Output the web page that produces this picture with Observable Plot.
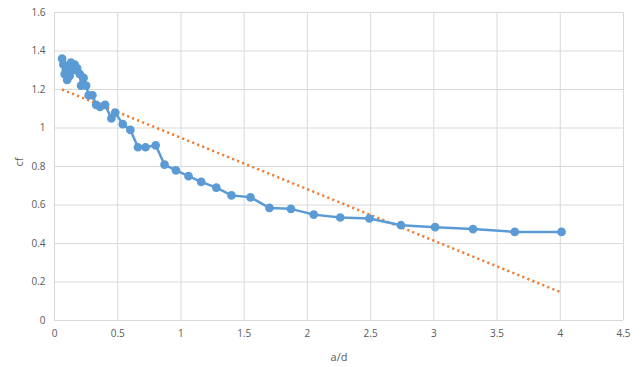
<!DOCTYPE html>
<html>
<head>
<meta charset="utf-8">
<script src="https://cdn.jsdelivr.net/npm/d3@7"></script>
<script src="https://cdn.jsdelivr.net/npm/@observablehq/plot@0.6"></script>
<style>
  html, body { margin: 0; padding: 0; background: #fff; }
  #chart svg { display: block; }
</style>
</head>
<body>
<div id="chart"></div>
<script>
const adValues = [0.06,0.07,0.08,0.09,0.10,0.11,0.12,0.13,0.15,0.16,0.18,0.20,0.21,0.23,0.25,0.27,0.30,0.33,0.36,0.40,0.45,0.48,0.54,0.60,0.66,0.72,0.80,0.87,0.96,1.06,1.16,1.28,1.40,1.55,1.70,1.87,2.05,2.26,2.49,2.74,3.01,3.31,3.64,4.01];
const cfValues = [1.36,1.33,1.28,1.30,1.25,1.32,1.27,1.34,1.30,1.33,1.31,1.28,1.22,1.26,1.22,1.17,1.17,1.12,1.11,1.12,1.05,1.08,1.02,0.99,0.90,0.90,0.91,0.81,0.78,0.75,0.72,0.69,0.65,0.64,0.585,0.58,0.55,0.535,0.53,0.495,0.485,0.475,0.46,0.46];
const trendX = [0.06, 4.01];
const trendY = [1.2, 0.145];
const xTicks = [0,0.5,1,1.5,2,2.5,3,3.5,4,4.5];
const yTicks = [0,0.2,0.4,0.6,0.8,1,1.2,1.4,1.6];

const series = adValues.map((x, i) => ({x, y: cfValues[i]}));
const trend = trendX.map((x, i) => ({x, y: trendY[i]}));

const chart = Plot.plot({
  width: 643,
  height: 367,
  marginLeft: 54,
  marginRight: 20,
  marginTop: 12,
  marginBottom: 47,
  style: {fontFamily: "'Open Sans', 'Liberation Sans', sans-serif", fontSize: "10px", color: "#595959", background: "#fff"},
  x: {domain: [0, 4.5], ticks: xTicks, tickFormat: d => String(d), label: null},
  y: {domain: [0, 1.6], ticks: yTicks, tickFormat: d => String(d), label: null},
  marks: [
    Plot.gridX(xTicks, {stroke: "#d9d9d9", strokeOpacity: 1, strokeWidth: 1}),
    Plot.gridY(yTicks, {stroke: "#d9d9d9", strokeOpacity: 1, strokeWidth: 1}),
    Plot.axisX(xTicks, {tickSize: 0, tickPadding: 9, fill: "#595959", tickFormat: d => String(d)}),
    Plot.axisY(yTicks, {tickSize: 0, tickPadding: 9, fill: "#595959", tickFormat: d => String(d)}),
    Plot.text(["a/d"], {frameAnchor: "bottom", dy: 40, fill: "#595959", fontSize: 11}),
    Plot.text(["cf"], {frameAnchor: "left", dx: -35, rotate: -90, fill: "#595959", fontSize: 11}),
    Plot.line(trend, {x: "x", y: "y", stroke: "#ed7d31", strokeWidth: 2.5, strokeDasharray: "2.2 3.2", strokeLinecap: "butt"}),
    Plot.line(series, {x: "x", y: "y", stroke: "#5b9bd5", strokeWidth: 2.5, strokeLinejoin: "round"}),
    Plot.dot(series, {x: "x", y: "y", r: 3.6, fill: "#5b9bd5", stroke: "#5b9bd5"})
  ]
});
document.getElementById("chart").appendChild(chart);
</script>
</body>
</html>
